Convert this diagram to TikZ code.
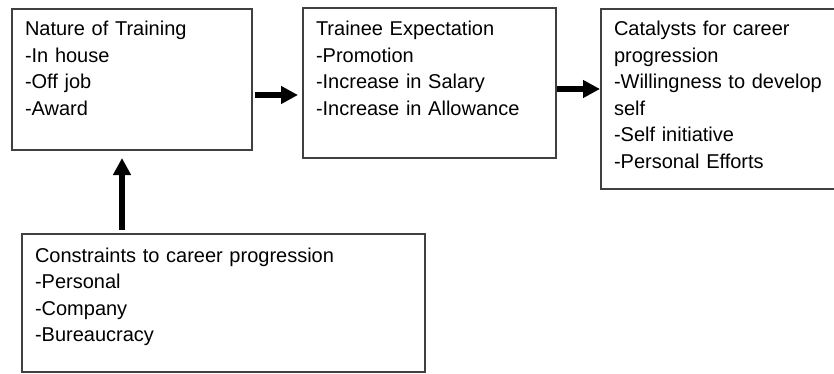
\documentclass[tikz,border=0pt]{standalone}
\usepackage{fontspec}
\setmainfont{Liberation Sans}
\usetikzlibrary{arrows.meta}

\begin{document}
\begin{tikzpicture}[
  x=1pt, y=-1pt,
  box/.style={rectangle, draw=black!75, line width=1.4pt, anchor=north west, align=left, inner xsep=13pt, inner ysep=0pt, outer sep=0pt, text height=26.5pt, font=\fontsize{20}{26.6}\selectfont},
  arr/.style={-{Triangle[length=17pt, width=17pt]}, line width=5.5pt}
]
\useasboundingbox (0,0) rectangle (834,374);

\node[box, text width=214pt, text depth=114.5pt] (train) at (12,9) {Nature of Training\\-In house\\-Off job\\-Award};
\node[box, text width=227pt, text depth=122.5pt, text height=27.5pt] (expect) at (303,8) {Trainee Expectation\\-Promotion\\-Increase in Salary\\-Increase in Allowance};
\node[box, text width=213pt, text depth=153.5pt] (catalyst) at (601,9) {Catalysts for career\\progression\\-Willingness to develop\\self\\-Self initiative\\-Personal Efforts};
\node[box, text width=377pt, text depth=110pt, text height=28pt] (constr) at (22,234) {Constraints to career progression\\-Personal\\-Company\\-Bureaucracy};

\draw[arr, shorten >=5pt] ([shift={(3,15.5)}]train.east) coordinate (a1) -- (a1 -| expect.west);
\draw[arr, shorten >=1pt] ([shift={(1,6)}]expect.east) coordinate (a2) -- (a2 -| catalyst.west);
\draw[arr, shorten >=8pt] ([shift={(-101.5,-4)}]constr.north) coordinate (a3) -- (a3 |- train.south);
\end{tikzpicture}
\end{document}
